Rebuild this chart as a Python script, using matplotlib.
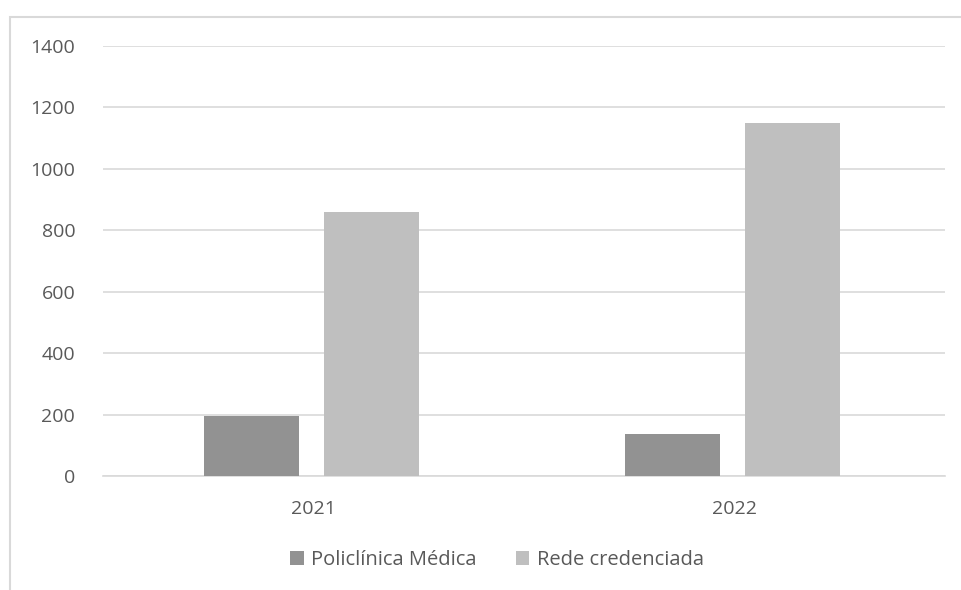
import numpy as np
import matplotlib.pyplot as plt
from matplotlib.patches import Rectangle

years = ['2021', '2022']
policlinica = [195, 136]
rede = [860, 1150]
series_names = ['Policlínica Médica', 'Rede credenciada']

dark = '#929292'
light = '#bfbfbf'
text_col = '#595959'
grid_col = '#d9d9d9'

plt.rcParams['font.family'] = ['Open Sans', 'DejaVu Sans']

fig = plt.figure(figsize=(9.62, 5.90), dpi=100)
ax = fig.add_axes([103 / 962, 1 - 476 / 590, 842 / 962, 430 / 590])

x = np.arange(len(years))
w = 0.226
ax.bar(x - 0.148, policlinica, w, color=dark, label=series_names[0], zorder=3)
ax.bar(x + 0.137, rede, w, color=light, label=series_names[1], zorder=3)

ax.set_xlim(-0.5, 1.5)
ax.set_ylim(0, 1400)
ax.set_yticks(range(0, 1401, 200))
ax.set_xticks(x)
ax.set_xticklabels(years)
ax.yaxis.grid(True, color=grid_col, linewidth=1.2, zorder=0)
for s in ['top', 'right', 'left']:
    ax.spines[s].set_visible(False)
ax.spines['bottom'].set_color(grid_col)
ax.spines['bottom'].set_linewidth(1.2)
ax.tick_params(length=0, labelsize=14, labelcolor=text_col)
ax.tick_params(axis='y', pad=20)
ax.tick_params(axis='x', pad=17)

# outer chart border, only left and top visible in the frame
fig.patches.append(Rectangle((10 / 962, -0.1), 1.2, 1 - 17 / 590 + 0.1,
                             transform=fig.transFigure, fill=False,
                             edgecolor=grid_col, linewidth=1.5))

fig.legend(loc='center', bbox_to_anchor=(497 / 962, 1 - 560 / 590), ncol=2,
           frameon=False, fontsize=14.5, labelcolor=text_col, handlelength=0.65,
           handleheight=0.65, handletextpad=0.35, columnspacing=2.0)

fig.savefig('out.png', dpi=100)
